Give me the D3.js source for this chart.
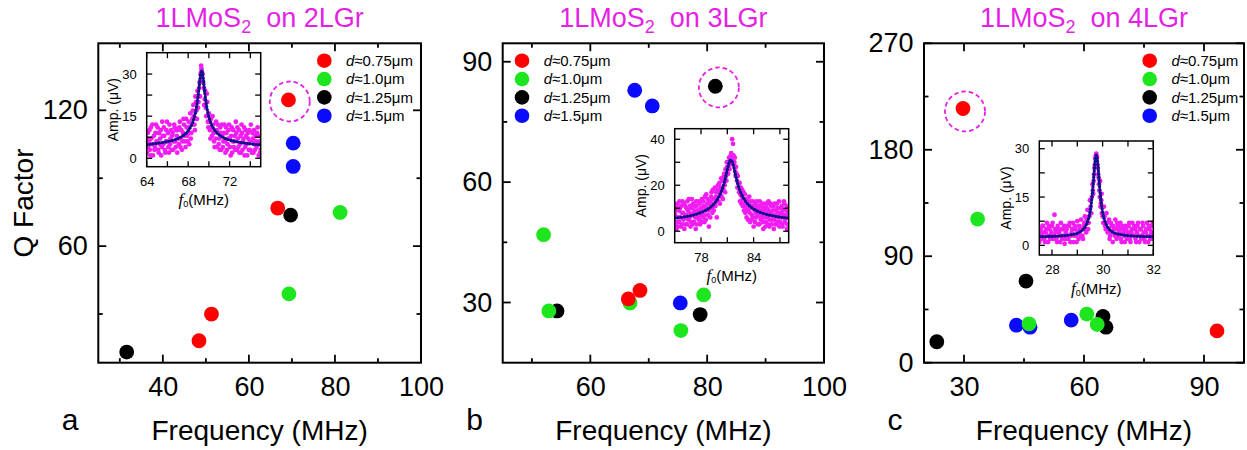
<!DOCTYPE html>
<html>
<head>
<meta charset="utf-8">
<script src="https://cdn.jsdelivr.net/npm/d3@7"></script>
<style>
  body { margin: 0; background: #fff; }
  svg { display: block; }
  text { font-family: "Liberation Sans", Arial, sans-serif; }
</style>
</head>
<body>
<svg id="fig" width="1247" height="450"></svg>
<script>
// ---------------- data ----------------
const diameters = ["0.75", "1.0", "1.25", "1.5"];      // legend entries, d in µm
const substrates = ["2LGr", "3LGr", "4LGr"];
const panelLetters = ["a", "b", "c"];

// Resonance frequency (MHz) and Q factor, one inner list per diameter
const freq2LGr = [[69.2, 66.7, 51.3, 48.4], [81.2, 69.3], [69.7, 31.6], [70.3, 70.3]];
const q2LGr    = [[124.6, 76.8, 30.0, 18.2], [74.9, 38.9], [73.7, 13.2], [105.5, 95.2]];

const freq3LGr = [[66.5, 68.5], [52.0, 52.9, 66.8, 75.5, 79.4], [81.4, 54.3, 78.8], [67.6, 70.6, 75.4]];
const q3LGr    = [[30.9, 33.0], [46.9, 27.9, 29.9, 23.0, 31.9], [83.9, 27.9, 27.0], [82.9, 79.0, 29.9]];

const freq4LGr = [[29.75, 93.25], [33.4, 46.25, 60.7, 63.3], [45.5, 64.75, 65.5, 23.2], [43.1, 46.5, 56.8]];
const q4LGr    = [[214.9, 26.9], [121.4, 32.9, 41.1, 32.3], [69.0, 39.1, 30.0, 17.7], [31.7, 30.0, 36.0]];

// Highlighted device (dashed ring), [freq, Q]
const ring2LGr = [69.5, 123.9];
const ring3LGr = [82.0, 83.6];
const ring4LGr = [30.25, 212.4];

// Axis ticks
const xMajor2LGr = [40, 60, 80, 100], xMinor2LGr = [30, 50, 70, 90];
const yMajor2LGr = [60, 120],         yMinor2LGr = [30, 90];
const xMajor3LGr = [60, 80, 100],     xMinor3LGr = [50, 70, 90];
const yMajor3LGr = [30, 60, 90],      yMinor3LGr = [45, 75];
const xMajor4LGr = [30, 60, 90],      xMinor4LGr = [45, 75];
const yMajor4LGr = [0, 90, 180, 270], yMinor4LGr = [45, 135, 225];

// Inset spectra: measured amplitude (µV) vs drive frequency (MHz), flat [f, A, f, A, ...]
const spec2LGr = [
  64.0,2, 64.1,9, 64.2,6, 64.3,3, 64.4,11, 64.5,5, 64.6,1, 64.7,8, 64.8,4, 64.9,12,
  65.0,6, 65.1,3, 65.2,9, 65.3,7, 65.4,1, 65.5,13, 65.6,5, 65.7,8, 65.8,2, 65.9,10,
  66.0,6, 66.1,4, 66.2,12, 66.3,7, 66.4,3, 66.5,9, 66.6,6, 66.7,11, 66.8,4, 66.9,8,
  67.0,10, 67.1,5, 67.2,13, 67.3,7, 67.4,3, 67.5,9, 67.6,12, 67.7,6, 67.8,14, 67.9,8,
  68.0,11, 68.1,5, 68.2,16, 68.3,9, 68.4,14, 68.5,19, 68.6,12, 68.7,22, 68.8,17, 68.9,24,
  69.0,20, 69.1,27, 69.2,30, 69.25,33, 69.3,31, 69.35,28, 69.4,30, 69.5,25, 69.6,21, 69.7,18,
  69.8,23, 69.9,13, 70.0,16, 70.1,10, 70.2,14, 70.3,8, 70.4,12, 70.5,6, 70.6,10, 70.7,13,
  70.8,4, 70.9,9, 71.0,7, 71.1,11, 71.2,3, 71.3,8, 71.4,6, 71.5,12, 71.6,2, 71.7,9,
  71.8,5, 71.9,10, 72.0,7, 72.1,1, 72.2,11, 72.3,6, 72.4,4, 72.5,8, 72.6,13, 72.7,3,
  72.8,7, 72.9,10, 73.0,5, 73.1,2, 73.2,9, 73.3,6, 73.4,11, 73.5,4, 73.6,8, 73.7,1,
  73.8,7, 73.9,10, 74.0,3, 74.1,6, 74.2,9, 74.3,2, 74.4,5, 74.5,8, 74.6,4, 74.7,11,
  74.8,1, 74.9,6, 75.0,3,
  64.05,7, 64.15,4, 64.25,10, 64.35,1, 64.45,7, 64.55,12, 64.65,5, 64.75,3, 64.85,9, 64.95,6,
  65.05,11, 65.15,2, 65.25,5, 65.35,10, 65.45,4, 65.55,8, 65.65,11, 65.75,3, 65.85,6, 65.95,13,
  66.05,9, 66.15,2, 66.25,5, 66.35,10, 66.45,8, 66.55,3, 66.65,12, 66.75,6, 66.85,10, 66.95,2,
  67.05,7, 67.15,11, 67.25,4, 67.35,10, 67.45,6, 67.55,14, 67.65,8, 67.75,4, 67.85,11, 67.95,6,
  68.05,13, 68.15,9, 68.25,7, 68.35,12, 68.45,17, 68.55,15, 68.65,10, 68.75,20, 68.85,14, 68.95,18,
  69.05,25, 69.15,22, 69.22,28, 69.28,32, 69.32,29, 69.45,27, 69.55,19, 69.65,24, 69.75,15, 69.85,20,
  69.95,11, 70.05,13, 70.15,7, 70.25,11, 70.35,15, 70.45,9, 70.55,4, 70.65,7, 70.75,10, 70.85,12,
  70.95,5, 71.05,3, 71.15,9, 71.25,12, 71.35,4, 71.45,9, 71.55,6, 71.65,11, 71.75,3, 71.85,7,
  71.95,12, 72.05,4, 72.15,8, 72.25,2, 72.35,10, 72.45,6, 72.55,3, 72.65,9, 72.75,11, 72.85,4,
  72.95,2, 73.05,8, 73.15,12, 73.25,3, 73.35,7, 73.45,1, 73.55,10, 73.65,5, 73.75,9, 73.85,3,
  73.95,6, 74.05,12, 74.15,2, 74.25,7, 74.35,10, 74.45,3, 74.55,6, 74.65,9, 74.75,5, 74.85,8, 74.95,2
];
const fit2LGr = [
  64.0,4.9, 64.3,5.0, 65.3,5.5, 66.3,6.2, 66.8,6.7, 67.3,7.6, 67.7,8.6, 68.0,9.8, 68.3,11.6,
  68.5,13.4, 68.7,16.2, 68.8,18.1, 68.9,20.5, 69.0,23.4, 69.1,26.8, 69.2,29.9, 69.3,31.3,
  69.4,29.9, 69.5,26.8, 69.6,23.4, 69.7,20.5, 69.8,18.1, 69.9,16.2, 70.1,13.4, 70.3,11.6,
  70.6,9.8, 70.9,8.6, 71.3,7.6, 71.8,6.7, 72.3,6.2, 73.3,5.5, 74.3,5.0, 75.0,4.8
];

const spec3LGr = [
  75.0,3, 75.1,9, 75.2,1, 75.3,12, 75.4,6, 75.5,4, 75.6,10, 75.7,2, 75.8,8, 75.9,13,
  76.0,5, 76.1,1, 76.2,11, 76.3,7, 76.4,3, 76.5,9, 76.6,14, 76.7,6, 76.8,2, 76.9,10,
  77.0,7, 77.1,12, 77.2,4, 77.3,9, 77.4,1, 77.5,11, 77.6,6, 77.7,13, 77.8,8, 77.9,3,
  78.0,10, 78.1,14, 78.2,6, 78.3,11, 78.4,4, 78.5,9, 78.6,16, 78.7,12, 78.8,7, 78.9,2,
  79.0,13, 79.1,10, 79.2,17, 79.3,8, 79.4,14, 79.5,11, 79.6,19, 79.7,15, 79.8,6, 79.9,18,
  80.0,13, 80.1,21, 80.2,16, 80.3,23, 80.4,19, 80.5,14, 80.6,24, 80.7,20, 80.8,27, 80.9,22,
  81.0,28, 81.1,25, 81.2,32, 81.3,29, 81.4,33, 81.5,31, 81.55,40, 81.65,38, 81.7,33, 81.8,30,
  81.9,26, 82.0,28, 82.1,22, 82.2,24, 82.3,19, 82.4,21, 82.5,16, 82.6,12, 82.7,18, 82.8,14,
  82.9,9, 83.0,16, 83.1,11, 83.2,6, 83.3,13, 83.4,9, 83.5,15, 83.6,4, 83.7,11, 83.8,7,
  83.9,13, 84.0,2, 84.1,9, 84.2,12, 84.3,6, 84.4,10, 84.5,3, 84.6,8, 84.7,13, 84.8,5,
  84.9,11, 85.0,7, 85.1,1, 85.2,9, 85.3,12, 85.4,4, 85.5,10, 85.6,6, 85.7,13, 85.8,2,
  85.9,8, 86.0,11, 86.1,5, 86.2,9, 86.3,1, 86.4,12, 86.5,7, 86.6,3, 86.7,10, 86.8,6,
  86.9,13, 87.0,4, 87.1,8, 87.2,11, 87.3,2, 87.4,7, 87.5,12, 87.6,5, 87.7,9, 87.8,1,
  87.9,6, 88.0,10,
  75.05,7, 75.15,11, 75.25,4, 75.35,2, 75.45,9, 75.55,13, 75.65,6, 75.75,11, 75.85,3, 75.95,8,
  76.05,12, 76.15,6, 76.25,3, 76.35,10, 76.45,13, 76.55,5, 76.65,8, 76.75,11, 76.85,4, 76.95,14,
  77.05,3, 77.15,8, 77.25,11, 77.35,6, 77.45,13, 77.55,3, 77.65,9, 77.75,5, 77.85,12, 77.95,7,
  78.05,4, 78.15,9, 78.25,13, 78.35,7, 78.45,15, 78.55,5, 78.65,10, 78.75,14, 78.85,9, 78.95,12,
  79.05,6, 79.15,15, 79.25,12, 79.35,18, 79.45,9, 79.55,14, 79.65,11, 79.75,17, 79.85,13, 79.95,20,
  80.05,17, 80.15,12, 80.25,19, 80.35,15, 80.45,22, 80.55,18, 80.65,25, 80.75,17, 80.85,24, 80.95,30,
  81.05,27, 81.15,30, 81.25,27, 81.35,31, 81.45,34, 81.6,32, 81.75,29, 81.85,32, 81.95,24, 82.05,25,
  82.15,19, 82.25,21, 82.35,17, 82.45,13, 82.55,19, 82.65,15, 82.75,11, 82.85,17, 82.95,12, 83.05,8,
  83.15,14, 83.25,10, 83.35,5, 83.45,12, 83.55,8, 83.65,13, 83.75,5, 83.85,10, 83.95,6, 84.05,11,
  84.15,4, 84.25,8, 84.35,13, 84.45,7, 84.55,11, 84.65,3, 84.75,9, 84.85,6, 84.95,12, 85.05,4,
  85.15,10, 85.25,6, 85.35,2, 85.45,8, 85.55,12, 85.65,3, 85.75,9, 85.85,5, 85.95,12, 86.05,3,
  86.15,7, 86.25,11, 86.35,5, 86.45,3, 86.55,9, 86.65,12, 86.75,4, 86.85,8, 86.95,2, 87.05,10,
  87.15,6, 87.25,3, 87.35,9, 87.45,13, 87.55,4, 87.65,7, 87.75,11, 87.85,3, 87.95,8
];
const fit3LGr = [
  75.0,5.7, 76.0,6.2, 77.0,6.9, 77.9,8.0, 78.6,9.2, 79.2,10.8, 79.7,12.9, 80.1,15.4,
  80.4,18.1, 80.65,21.2, 80.9,25.1, 81.1,28.4, 81.25,30.3, 81.4,31.0, 81.55,30.3, 81.7,28.4,
  81.9,25.1, 82.15,21.2, 82.4,18.1, 82.7,15.4, 83.1,12.9, 83.6,10.8, 84.2,9.2, 84.9,8.0,
  85.9,6.9, 86.9,6.2, 88.0,5.7
];

const spec4LGr = [
  27.5,1, 27.55,5, 27.6,3, 27.65,6, 27.7,2, 27.75,4, 27.8,7, 27.85,1, 27.9,5, 27.95,3,
  28.0,6, 28.05,2, 28.1,9.5, 28.15,4, 28.2,1, 28.25,5, 28.3,3, 28.35,7, 28.4,2, 28.45,5,
  28.5,0.5, 28.55,4, 28.6,6, 28.65,2, 28.7,7, 28.75,3, 28.8,5, 28.85,1, 28.9,6, 28.95,3,
  29.0,7.5, 29.05,2, 29.1,5, 29.15,8, 29.2,3, 29.25,6, 29.3,9, 29.35,4, 29.4,11, 29.45,7,
  29.5,14, 29.55,10, 29.6,19, 29.63,16, 29.66,22, 29.69,25, 29.72,27, 29.75,28.5, 29.78,27.5, 29.81,24,
  29.84,21, 29.87,17, 29.9,20, 29.93,13, 29.96,16, 30.0,9, 30.05,12, 30.1,6, 30.15,10, 30.2,4,
  30.25,8, 30.3,3, 30.35,6, 30.4,1, 30.45,5, 30.5,8, 30.55,2, 30.6,6, 30.65,4, 30.7,7,
  30.75,1, 30.8,5, 30.85,3, 30.9,6, 30.95,2, 31.0,4, 31.05,7, 31.1,1, 31.15,5, 31.2,3,
  31.25,6, 31.3,2, 31.35,4, 31.4,7, 31.45,1, 31.5,5, 31.55,3, 31.6,6, 31.65,2, 31.7,4,
  31.75,7, 31.8,1, 31.85,5, 31.9,3, 31.95,6, 32.0,2,
  27.525,4, 27.575,2, 27.625,6, 27.675,4, 27.725,1, 27.775,5, 27.825,3, 27.875,6, 27.925,2, 27.975,4,
  28.025,7, 28.075,3, 28.125,5, 28.175,2, 28.225,6, 28.275,4, 28.325,1, 28.375,5, 28.425,3, 28.475,6,
  28.525,2, 28.575,5, 28.625,3, 28.675,6, 28.725,1, 28.775,4, 28.825,7, 28.875,3, 28.925,5, 28.975,1,
  29.025,4, 29.075,6, 29.125,3, 29.175,5, 29.225,2, 29.275,7, 29.325,5, 29.375,8, 29.425,5, 29.475,9,
  29.525,12, 29.575,15, 29.615,17, 29.645,20, 29.675,24, 29.705,27, 29.735,28, 29.765,27, 29.795,25, 29.825,22,
  29.855,19, 29.885,15, 29.915,12, 29.945,14, 29.975,10, 30.025,7, 30.075,9, 30.125,5, 30.175,7, 30.225,5,
  30.275,2, 30.325,7, 30.375,4, 30.425,6, 30.475,3, 30.525,5, 30.575,7, 30.625,3, 30.675,5, 30.725,2,
  30.775,6, 30.825,4, 30.875,1, 30.925,5, 30.975,3, 31.025,6, 31.075,2, 31.125,4, 31.175,7, 31.225,3,
  31.275,5, 31.325,1, 31.375,6, 31.425,3, 31.475,5, 31.525,2, 31.575,7, 31.625,4, 31.675,1, 31.725,5,
  31.775,3, 31.825,6, 31.875,2, 31.925,4, 31.975,7
];
const fit4LGr = [
  27.5,2.7, 28.0,2.8, 28.5,3.0, 28.75,3.3, 29.05,3.9, 29.25,5.1, 29.35,6.3, 29.45,8.5,
  29.5,10.3, 29.55,12.9, 29.59,15.7, 29.63,19.2, 29.67,23.2, 29.71,26.6, 29.75,28.0,
  29.79,26.6, 29.83,23.2, 29.87,19.2, 29.91,15.7, 29.95,12.9, 30.0,10.3, 30.05,8.5,
  30.15,6.3, 30.25,5.1, 30.45,3.9, 30.75,3.3, 31.25,2.9, 32.0,2.7
];

// Inset ticks
const insXMajor2LGr = [64, 68, 72], insXMinor2LGr = [66, 70, 74];
const insYMajor2LGr = [0, 15, 30],  insYMinor2LGr = [7.5, 22.5];
const insXMajor3LGr = [78, 84],     insXMinor3LGr = [81, 87];
const insYMajor3LGr = [0, 20, 40],  insYMinor3LGr = [10, 30];
const insXMajor4LGr = [28, 30, 32], insXMinor4LGr = [29, 31];
const insYMajor4LGr = [0, 15, 30],  insYMinor4LGr = [7.5, 22.5];

// ---------------- style ----------------
const seriesColors = ["#ff0000", "#1ee61e", "#000000", "#0a0aff"];
const drawOrder = [3, 2, 1, 0];          // blue, black, green, red (red on top)
const titleColor = "#e51fe5";
const specColor = "#f21df2";
const fitColor = "#22229a";
const fitDotColor = "#10108a";

const panels = [
  { left: 98.3, right: 421, xDom: [25, 100], yDom: [8.5, 149.6],
    freq: freq2LGr, q: q2LGr, ring: ring2LGr,
    xMaj: xMajor2LGr, xMin: xMinor2LGr, yMaj: yMajor2LGr, yMin: yMinor2LGr,
    legend: { x: 324.3 }, yLabel: true,
    inset: { x: 146.7, y: 52.7, xDom: [64, 75], yDom: [-3, 37.6], spec: spec2LGr, fit: fit2LGr,
             xMaj: insXMajor2LGr, xMin: insXMinor2LGr, yMaj: insYMajor2LGr, yMin: insYMinor2LGr } },
  { left: 502.7, right: 824, xDom: [45, 100], yDom: [15, 94.6],
    freq: freq3LGr, q: q3LGr, ring: ring3LGr,
    xMaj: xMajor3LGr, xMin: xMinor3LGr, yMaj: yMajor3LGr, yMin: yMinor3LGr,
    legend: { x: 522 }, yLabel: false,
    inset: { x: 674.7, y: 128.7, xDom: [75, 88], yDom: [-5, 44.6], spec: spec3LGr, fit: fit3LGr,
             xMaj: insXMajor3LGr, xMin: insXMinor3LGr, yMaj: insYMajor3LGr, yMin: insYMinor3LGr } },
  { left: 924, right: 1244, xDom: [20, 100], yDom: [0, 270],
    freq: freq4LGr, q: q4LGr, ring: ring4LGr,
    xMaj: xMajor4LGr, xMin: xMinor4LGr, yMaj: yMajor4LGr, yMin: yMinor4LGr,
    legend: { x: 1149.7 }, yLabel: false,
    inset: { x: 1039.3, y: 141, xDom: [27.5, 32], yDom: [-3, 32.4], spec: spec4LGr, fit: fit4LGr,
             xMaj: insXMajor4LGr, xMin: insXMinor4LGr, yMaj: insYMajor4LGr, yMin: insYMinor4LGr } }
];

const TOP = 43.3, BOTTOM = 362.7;
const svg = d3.select("#fig");
svg.append("rect").attr("width", 1247).attr("height", 450).attr("fill", "#fff");

// inward ticks on all four sides of a frame
function frameTicks(g, x, y, xs, ys, width) {
  const [x0, x1] = x.range(), [y1, y0] = y.range();
  const add = (a, b, c, d) => g.append("line").attr("x1", a).attr("y1", b).attr("x2", c).attr("y2", d)
    .attr("stroke", "#000").attr("stroke-width", width);
  xs.forEach(([v, L]) => { const px = x(v); add(px, y1, px, y1 - L); add(px, y0, px, y0 + L); });
  ys.forEach(([v, L]) => { const py = y(v); add(x0, py, x0 + L, py); add(x1, py, x1 - L, py); });
}

function pairs(flat) {
  const out = [];
  for (let i = 0; i < flat.length; i += 2) out.push([flat[i], flat[i + 1]]);
  return out;
}

panels.forEach((p, pi) => {
  const g = svg.append("g");
  const x = d3.scaleLinear().domain(p.xDom).range([p.left, p.right]);
  const y = d3.scaleLinear().domain(p.yDom).range([BOTTOM, TOP]);
  const cx = (p.left + p.right) / 2;

  // title
  const t = g.append("text").attr("x", cx).attr("y", 26.7).attr("text-anchor", "middle")
    .attr("fill", titleColor).attr("font-size", 27);
  t.append("tspan").text("1LMoS");
  t.append("tspan").attr("font-size", 18).attr("dy", 6).text("2");
  t.append("tspan").attr("dy", -6).text("\u00a0 on " + substrates[pi]);

  // frame
  g.append("rect").attr("x", p.left).attr("y", TOP).attr("width", p.right - p.left)
    .attr("height", BOTTOM - TOP).attr("fill", "none").attr("stroke", "#000").attr("stroke-width", 2);
  frameTicks(g, x, y,
    p.xMaj.map(v => [v, 8]).concat(p.xMin.map(v => [v, 4.5])),
    p.yMaj.map(v => [v, 8]).concat(p.yMin.map(v => [v, 4.5])), 1.8);

  // tick labels
  g.append("g").attr("transform", `translate(0,${BOTTOM})`)
    .call(d3.axisBottom(x).tickValues(p.xMaj).tickSize(0).tickPadding(14).tickFormat(d3.format("d")))
    .call(a => a.select(".domain").remove())
    .call(a => a.selectAll("text").attr("font-size", 27).attr("font-family", null));
  g.append("g").attr("transform", `translate(${p.left},0)`)
    .call(d3.axisLeft(y).tickValues(p.yMaj).tickSize(0).tickPadding(10.5).tickFormat(d3.format("d")))
    .call(a => a.select(".domain").remove())
    .call(a => a.selectAll("text").attr("font-size", 27).attr("font-family", null));

  // axis titles and panel letter
  g.append("text").attr("x", cx).attr("y", 440).attr("text-anchor", "middle")
    .attr("font-size", 28).text("Frequency (MHz)");
  g.append("text").attr("x", p.left - 36.5).attr("y", 430).attr("font-size", 30).text(panelLetters[pi]);
  if (p.yLabel) {
    g.append("text").attr("transform", `translate(33,${(TOP + BOTTOM) / 2}) rotate(-90)`)
      .attr("text-anchor", "middle").attr("font-size", 28).text("Q Factor");
  }

  // highlight ring
  g.append("circle").attr("cx", x(p.ring[0])).attr("cy", y(p.ring[1])).attr("r", 20)
    .attr("fill", "none").attr("stroke", titleColor).attr("stroke-width", 1.8)
    .attr("stroke-dasharray", "4.5,3");

  // data points
  drawOrder.forEach(si => {
    g.selectAll(null).data(d3.zip(p.freq[si], p.q[si])).join("circle")
      .attr("cx", d => x(d[0])).attr("cy", d => y(d[1])).attr("r", 7.4)
      .attr("fill", seriesColors[si]);
  });

  // legend
  diameters.forEach((d, i) => {
    const ly = TOP + 17.4 + i * 18.35;
    g.append("circle").attr("cx", p.legend.x).attr("cy", ly).attr("r", 7.3).attr("fill", seriesColors[i]);
    const lt = g.append("text").attr("x", p.legend.x + 21.7).attr("y", ly + 5.4).attr("font-size", 15);
    lt.append("tspan").attr("font-style", "italic").text("d");
    lt.append("tspan").text("\u2248" + d + "\u03bcm");
  });

  // inset spectrum
  const ins = p.inset, W = 114, H = 114;
  const ig = g.append("g");
  const ix = d3.scaleLinear().domain(ins.xDom).range([ins.x, ins.x + W]);
  const iy = d3.scaleLinear().domain(ins.yDom).range([ins.y + H, ins.y]);
  ig.append("rect").attr("x", ins.x).attr("y", ins.y).attr("width", W).attr("height", H).attr("fill", "#fff");
  const clipId = "clip" + pi;
  ig.append("clipPath").attr("id", clipId).append("rect")
    .attr("x", ins.x).attr("y", ins.y).attr("width", W).attr("height", H);
  const plot = ig.append("g").attr("clip-path", `url(#${clipId})`);
  plot.selectAll(null).data(pairs(ins.spec)).join("circle")
    .attr("cx", d => ix(d[0])).attr("cy", d => iy(d[1])).attr("r", 2.4).attr("fill", specColor);
  const path = plot.append("path").datum(pairs(ins.fit))
    .attr("d", d3.line().x(d => ix(d[0])).y(d => iy(d[1])).curve(d3.curveMonotoneX))
    .attr("fill", "none").attr("stroke", fitColor).attr("stroke-width", 2.2);
  // dotted markers along the fitted curve
  const node = path.node(), total = node.getTotalLength();
  const marks = [];
  for (let l = 0; l <= total; l += 3.2) { const pt = node.getPointAtLength(l); marks.push([pt.x, pt.y]); }
  plot.selectAll(null).data(marks).join("circle")
    .attr("cx", d => d[0]).attr("cy", d => d[1]).attr("r", 1.6).attr("fill", fitDotColor);

  ig.append("rect").attr("x", ins.x).attr("y", ins.y).attr("width", W).attr("height", H)
    .attr("fill", "none").attr("stroke", "#000").attr("stroke-width", 1.5);
  frameTicks(ig, ix, iy,
    ins.xMaj.map(v => [v, 5.5]).concat(ins.xMin.map(v => [v, 5.5])),
    ins.yMaj.map(v => [v, 5.5]).concat(ins.yMin.map(v => [v, 5.5])), 1.3);

  ig.append("g").attr("transform", `translate(0,${ins.y + H})`)
    .call(d3.axisBottom(ix).tickValues(ins.xMaj).tickSize(0).tickPadding(10).tickFormat(d3.format("d")))
    .call(a => a.select(".domain").remove())
    .call(a => a.selectAll("text").attr("font-size", 13).attr("font-family", null));
  ig.append("g").attr("transform", `translate(${ins.x},0)`)
    .call(d3.axisLeft(iy).tickValues(ins.yMaj).tickSize(0).tickPadding(10).tickFormat(d3.format("d")))
    .call(a => a.select(".domain").remove())
    .call(a => a.selectAll("text").attr("font-size", 13).attr("font-family", null));

  const xl = ig.append("text").attr("x", ins.x + W / 2).attr("y", ins.y + H + 38.5)
    .attr("text-anchor", "middle").attr("font-size", 15);
  xl.append("tspan").attr("font-family", "'Liberation Serif', 'Times New Roman', serif")
    .attr("font-style", "italic").attr("font-size", 17).text("f");
  xl.append("tspan").attr("font-size", 9).attr("dy", 2).text("0");
  xl.append("tspan").attr("dy", -2).text("(MHz)");
  ig.append("text").attr("transform", `translate(${ins.x - 28.7},${ins.y + H / 2}) rotate(-90)`)
    .attr("text-anchor", "middle").attr("font-size", 14).text("Amp. (\u03bcV)");
});
</script>
</body>
</html>
